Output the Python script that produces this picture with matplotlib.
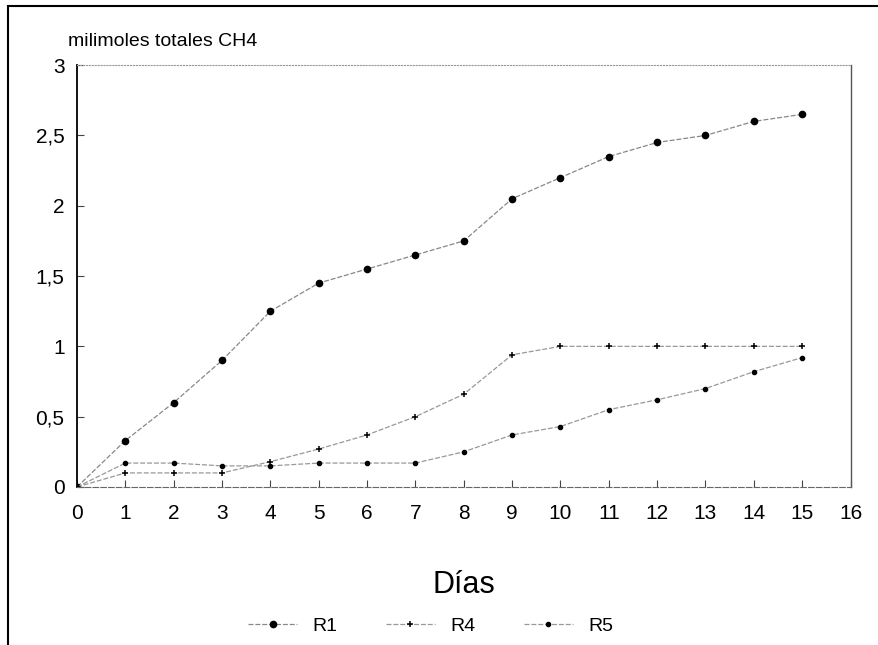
import matplotlib
matplotlib.use("Agg")
import matplotlib.pyplot as plt
from matplotlib.patches import Rectangle

plt.rcParams['font.family'] = ['Liberation Sans', 'DejaVu Sans']

days = list(range(16))
r1 = [0, 0.33, 0.60, 0.90, 1.25, 1.45, 1.55, 1.65, 1.75, 2.05, 2.20, 2.35, 2.45, 2.50, 2.60, 2.65]
r4 = [0, 0.10, 0.10, 0.10, 0.18, 0.27, 0.37, 0.50, 0.66, 0.94, 1.00, 1.00, 1.00, 1.00, 1.00, 1.00]
r5 = [0, 0.17, 0.17, 0.15, 0.15, 0.17, 0.17, 0.17, 0.25, 0.37, 0.43, 0.55, 0.62, 0.70, 0.82, 0.92]

xticks = list(range(17))
yticks = [0, 0.5, 1, 1.5, 2, 2.5, 3]
ytick_labels = ['0', '0,5', '1', '1,5', '2', '2,5', '3']

fig = plt.figure(figsize=(8.79, 6.45), dpi=100)
ax = fig.add_axes([0.0876, 0.245, 0.880, 0.654])

ax.plot(days, r1, color='#888888', lw=0.9, ls=(0, (4, 1.5)), marker='o', ms=4.5,
        mfc='black', mec='black', label='R1')
ax.plot(days, r4, color='#999999', lw=0.9, ls=(0, (4, 1.5)), marker='+', ms=5, mew=1.1,
        mfc='black', mec='black', label='R4')
ax.plot(days, r5, color='#999999', lw=0.9, ls=(0, (4, 1.5)), marker='o', ms=3.0,
        mfc='black', mec='black', label='R5')

ax.set_xlim(0, 16)
ax.set_ylim(0, 3)
ax.set_xticks(xticks)
ax.set_xticklabels([str(t) for t in xticks])
ax.set_yticks(yticks)
ax.set_yticklabels(ytick_labels)
ax.tick_params(axis='both', direction='in', length=5, labelsize=15, width=0.8, color='#444444')
ax.tick_params(axis='x', pad=12)
ax.tick_params(axis='y', pad=9)

ax.spines['left'].set_color('black')
ax.spines['left'].set_linewidth(1.3)
ax.spines['top'].set_color('#999999')
ax.spines['top'].set_linestyle(':')
ax.spines['right'].set_color('#555555')
ax.spines['right'].set_linewidth(1.0)
ax.spines['bottom'].set_color('#666666')
ax.spines['bottom'].set_linestyle((0, (5, 2)))

ax.set_xlabel('Días', fontsize=22, labelpad=34)
fig.text(0.077, 0.922, 'milimoles totales CH4', fontsize=14, ha='left', va='bottom')

leg = fig.legend(loc='lower center', bbox_to_anchor=(0.49, -0.012), ncol=3, frameon=False,
                 fontsize=14, handlelength=2.5, columnspacing=2.5)

fig.patches.append(Rectangle((0.009, -0.01), 1.2, 1.0, transform=fig.transFigure,
                             fill=False, edgecolor='black', lw=1.5))

fig.savefig('out.png', dpi=100)
